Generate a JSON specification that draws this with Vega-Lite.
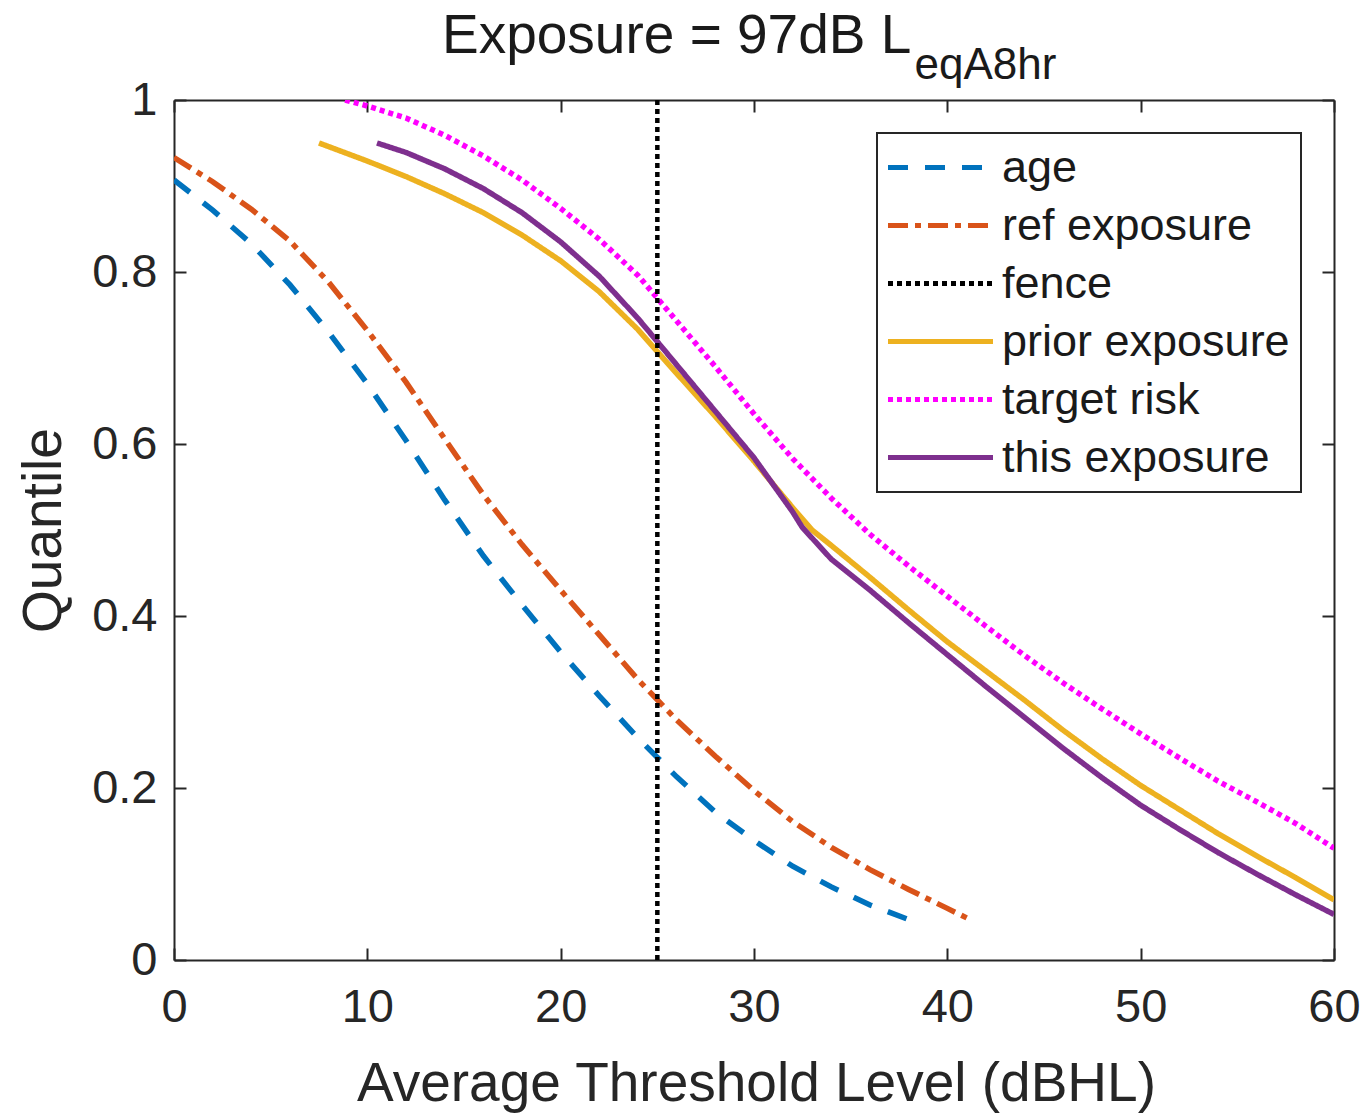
{
  "$schema": "https://vega.github.io/schema/vega-lite/v6.json",
  "width": 1160,
  "height": 860,
  "autosize": {"type": "none"},
  "padding": {"left": 174, "top": 100, "right": 38, "bottom": 153},
  "background": "white",
  "title": {
    "text": "Exposure = 97dB L",
    "anchor": "start",
    "frame": "group",
    "dx": 268,
    "offset": -22,
    "font": "Liberation Sans",
    "fontSize": 55,
    "fontWeight": "normal",
    "color": "#1a1a1a"
  },
  "datasets": {
    "curves": [
      {"series": "age", "x": 0, "q": 0.907}, {"series": "age", "x": 2, "q": 0.872}, {"series": "age", "x": 4, "q": 0.833},
      {"series": "age", "x": 6, "q": 0.785}, {"series": "age", "x": 8, "q": 0.730}, {"series": "age", "x": 10, "q": 0.670},
      {"series": "age", "x": 12, "q": 0.604}, {"series": "age", "x": 14, "q": 0.535}, {"series": "age", "x": 16, "q": 0.470},
      {"series": "age", "x": 18, "q": 0.413}, {"series": "age", "x": 20, "q": 0.358}, {"series": "age", "x": 22, "q": 0.307},
      {"series": "age", "x": 24, "q": 0.258}, {"series": "age", "x": 26, "q": 0.213}, {"series": "age", "x": 28, "q": 0.172},
      {"series": "age", "x": 30, "q": 0.139}, {"series": "age", "x": 32, "q": 0.109}, {"series": "age", "x": 34, "q": 0.085},
      {"series": "age", "x": 36, "q": 0.064}, {"series": "age", "x": 38, "q": 0.047},
      {"series": "ref exposure", "x": 0, "q": 0.933}, {"series": "ref exposure", "x": 2, "q": 0.905}, {"series": "ref exposure", "x": 4, "q": 0.873},
      {"series": "ref exposure", "x": 6, "q": 0.836}, {"series": "ref exposure", "x": 8, "q": 0.788}, {"series": "ref exposure", "x": 10, "q": 0.732},
      {"series": "ref exposure", "x": 12, "q": 0.672}, {"series": "ref exposure", "x": 14, "q": 0.606}, {"series": "ref exposure", "x": 16, "q": 0.541},
      {"series": "ref exposure", "x": 18, "q": 0.483}, {"series": "ref exposure", "x": 20, "q": 0.430}, {"series": "ref exposure", "x": 22, "q": 0.378},
      {"series": "ref exposure", "x": 24, "q": 0.326}, {"series": "ref exposure", "x": 26, "q": 0.279}, {"series": "ref exposure", "x": 28, "q": 0.237},
      {"series": "ref exposure", "x": 30, "q": 0.197}, {"series": "ref exposure", "x": 32, "q": 0.161}, {"series": "ref exposure", "x": 34, "q": 0.131},
      {"series": "ref exposure", "x": 36, "q": 0.105}, {"series": "ref exposure", "x": 38, "q": 0.082}, {"series": "ref exposure", "x": 40, "q": 0.060},
      {"series": "ref exposure", "x": 41, "q": 0.049},
      {"series": "prior exposure", "x": 7.5, "q": 0.950}, {"series": "prior exposure", "x": 10, "q": 0.929}, {"series": "prior exposure", "x": 12, "q": 0.911},
      {"series": "prior exposure", "x": 14, "q": 0.891}, {"series": "prior exposure", "x": 16, "q": 0.869}, {"series": "prior exposure", "x": 18, "q": 0.843},
      {"series": "prior exposure", "x": 20, "q": 0.813}, {"series": "prior exposure", "x": 22, "q": 0.777}, {"series": "prior exposure", "x": 24, "q": 0.733},
      {"series": "prior exposure", "x": 26, "q": 0.682}, {"series": "prior exposure", "x": 28, "q": 0.632}, {"series": "prior exposure", "x": 30, "q": 0.580},
      {"series": "prior exposure", "x": 32, "q": 0.526}, {"series": "prior exposure", "x": 33, "q": 0.500}, {"series": "prior exposure", "x": 34, "q": 0.482},
      {"series": "prior exposure", "x": 36, "q": 0.445}, {"series": "prior exposure", "x": 38, "q": 0.407}, {"series": "prior exposure", "x": 40, "q": 0.370},
      {"series": "prior exposure", "x": 42, "q": 0.336}, {"series": "prior exposure", "x": 44, "q": 0.302}, {"series": "prior exposure", "x": 46, "q": 0.267},
      {"series": "prior exposure", "x": 48, "q": 0.234}, {"series": "prior exposure", "x": 50, "q": 0.203}, {"series": "prior exposure", "x": 52, "q": 0.175},
      {"series": "prior exposure", "x": 54, "q": 0.147}, {"series": "prior exposure", "x": 56, "q": 0.121}, {"series": "prior exposure", "x": 58, "q": 0.096},
      {"series": "prior exposure", "x": 60, "q": 0.070},
      {"series": "target risk", "x": 8.85, "q": 1.0}, {"series": "target risk", "x": 10, "q": 0.993}, {"series": "target risk", "x": 12, "q": 0.979},
      {"series": "target risk", "x": 14, "q": 0.959}, {"series": "target risk", "x": 16, "q": 0.935}, {"series": "target risk", "x": 18, "q": 0.907},
      {"series": "target risk", "x": 20, "q": 0.874}, {"series": "target risk", "x": 22, "q": 0.838}, {"series": "target risk", "x": 24, "q": 0.796},
      {"series": "target risk", "x": 26, "q": 0.743}, {"series": "target risk", "x": 28, "q": 0.690}, {"series": "target risk", "x": 30, "q": 0.635},
      {"series": "target risk", "x": 32, "q": 0.583}, {"series": "target risk", "x": 34, "q": 0.537}, {"series": "target risk", "x": 36, "q": 0.495},
      {"series": "target risk", "x": 38, "q": 0.458}, {"series": "target risk", "x": 40, "q": 0.423}, {"series": "target risk", "x": 42, "q": 0.388},
      {"series": "target risk", "x": 44, "q": 0.354}, {"series": "target risk", "x": 46, "q": 0.322}, {"series": "target risk", "x": 48, "q": 0.292},
      {"series": "target risk", "x": 50, "q": 0.263}, {"series": "target risk", "x": 52, "q": 0.235}, {"series": "target risk", "x": 54, "q": 0.208},
      {"series": "target risk", "x": 56, "q": 0.184}, {"series": "target risk", "x": 58, "q": 0.159}, {"series": "target risk", "x": 60, "q": 0.130},
      {"series": "this exposure", "x": 10.5, "q": 0.950}, {"series": "this exposure", "x": 12, "q": 0.939}, {"series": "this exposure", "x": 14, "q": 0.920},
      {"series": "this exposure", "x": 16, "q": 0.897}, {"series": "this exposure", "x": 18, "q": 0.869}, {"series": "this exposure", "x": 20, "q": 0.835},
      {"series": "this exposure", "x": 22, "q": 0.795}, {"series": "this exposure", "x": 24, "q": 0.746}, {"series": "this exposure", "x": 26, "q": 0.692},
      {"series": "this exposure", "x": 28, "q": 0.638}, {"series": "this exposure", "x": 30, "q": 0.584}, {"series": "this exposure", "x": 32, "q": 0.521},
      {"series": "this exposure", "x": 32.5, "q": 0.503}, {"series": "this exposure", "x": 34, "q": 0.466}, {"series": "this exposure", "x": 36, "q": 0.430},
      {"series": "this exposure", "x": 38, "q": 0.392}, {"series": "this exposure", "x": 40, "q": 0.355}, {"series": "this exposure", "x": 42, "q": 0.318},
      {"series": "this exposure", "x": 44, "q": 0.282}, {"series": "this exposure", "x": 46, "q": 0.246}, {"series": "this exposure", "x": 48, "q": 0.212},
      {"series": "this exposure", "x": 50, "q": 0.180}, {"series": "this exposure", "x": 52, "q": 0.152}, {"series": "this exposure", "x": 54, "q": 0.125},
      {"series": "this exposure", "x": 56, "q": 0.100}, {"series": "this exposure", "x": 58, "q": 0.076}, {"series": "this exposure", "x": 60, "q": 0.053}
    ],
    "fence": [
      {"series": "fence", "x": 25, "q": 0},
      {"series": "fence", "x": 25, "q": 1}
    ]
  },
  "resolve": {"axis": {"x": "independent", "y": "independent"}},
  "layer": [
    {
      "data": {"name": "curves"},
      "mark": {"type": "line", "strokeWidth": 5.5, "clip": true},
      "encoding": {
        "x": {
          "field": "x", "type": "quantitative",
          "scale": {"domain": [0, 60], "nice": false, "zero": false},
          "axis": {"orient": "bottom", "values": [0, 10, 20, 30, 40, 50, 60], "title": "Average Threshold Level (dBHL)",
                   "titleX": 582, "titleY": 140, "titleBaseline": "alphabetic", "labelPadding": 36}
        },
        "y": {
          "field": "q", "type": "quantitative",
          "scale": {"domain": [0, 1], "nice": false},
          "axis": {"orient": "left", "values": [0, 0.2, 0.4, 0.6, 0.8, 1], "format": "~g", "title": "Quantile",
                   "titleX": -114, "titleY": 430, "titleAlign": "center", "titleBaseline": "alphabetic", "titleAngle": -90, "labelPadding": 29}
        },
        "color": {
          "field": "series", "type": "nominal",
          "scale": {"domain": ["age", "ref exposure", "fence", "prior exposure", "target risk", "this exposure"],
                    "range": ["#0072BD", "#D95319", "#000000", "#EDB120", "#FF00FF", "#7E2F8E"]},
          "legend": {"title": null}
        },
        "strokeDash": {
          "field": "series", "type": "nominal",
          "scale": {"domain": ["age", "ref exposure", "fence", "prior exposure", "target risk", "this exposure"],
                    "range": [[20, 17], [20, 7, 6, 7], [5, 4], [1, 0], [5, 4], [1, 0]]},
          "legend": {"title": null}
        }
      }
    },
    {
      "data": {"name": "fence"},
      "mark": {"type": "line", "strokeWidth": 4.5},
      "encoding": {
        "x": {
          "field": "x", "type": "quantitative",
          "scale": {"domain": [0, 60], "nice": false, "zero": false},
          "axis": {"orient": "top", "values": [0, 10, 20, 30, 40, 50, 60], "labels": false, "title": "eqA8hr",
                   "titleX": 740, "titleY": -22, "titleAlign": "left", "titleBaseline": "alphabetic",
                   "titleFontSize": 44, "titleColor": "#1a1a1a"}
        },
        "y": {
          "field": "q", "type": "quantitative",
          "scale": {"domain": [0, 1], "nice": false},
          "axis": {"orient": "right", "values": [0, 0.2, 0.4, 0.6, 0.8, 1], "labels": false, "title": null}
        },
        "color": {"field": "series", "type": "nominal"},
        "strokeDash": {"field": "series", "type": "nominal"}
      }
    }
  ],
  "config": {
    "view": {"stroke": null},
    "font": "Liberation Sans",
    "axis": {
      "grid": false,
      "domainColor": "#262626",
      "domainWidth": 2,
      "tickColor": "#262626",
      "tickWidth": 2,
      "tickSize": -12,
      "labelFont": "Liberation Sans",
      "labelFontSize": 47,
      "labelColor": "#262626",
      "titleFont": "Liberation Sans",
      "titleFontSize": 55,
      "titleFontWeight": "normal",
      "titleColor": "#262626",
      "labelFlush": false,
      "labelOverlap": false
    },
    "legend": {
      "orient": "none",
      "legendX": 703,
      "legendY": 33,
      "padding": 11,
      "strokeColor": "#262626",
      "strokeWidth": 2,
      "fillColor": "white",
      "cornerRadius": 0,
      "symbolType": "M-2.5,0H2.5",
      "symbolSize": 1764,
      "symbolStrokeWidth": 5,
      "symbolOffset": 29,
      "labelOffset": 38,
      "labelFont": "Liberation Sans",
      "labelFontSize": 45,
      "labelColor": "#1a1a1a",
      "labelLimit": 600,
      "rowPadding": 11
    }
  }
}
